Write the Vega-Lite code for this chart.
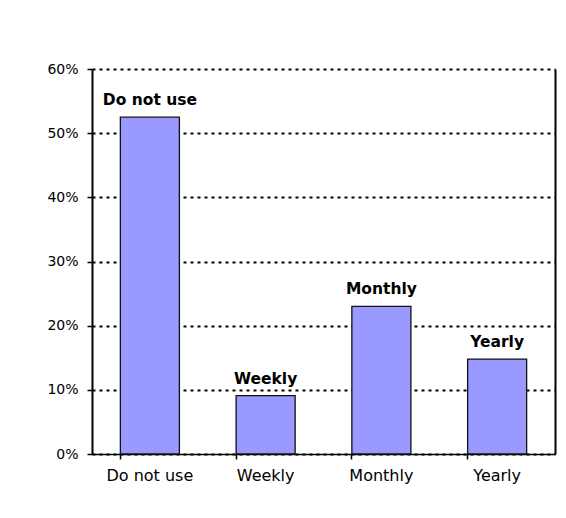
{
  "$schema": "https://vega.github.io/schema/vega-lite/v6.json",
  "autosize": "none",
  "width": 463,
  "height": 385,
  "padding": {"left": 92, "top": 69, "right": 11, "bottom": 64},
  "background": "white",
  "data": {
    "values": [
      {"usage": "Do not use", "share": 0.525},
      {"usage": "Weekly", "share": 0.091},
      {"usage": "Monthly", "share": 0.23},
      {"usage": "Yearly", "share": 0.148}
    ]
  },
  "config": {
    "view": {"stroke": null},
    "axis": {
      "labelFont": "DejaVu Sans",
      "labelColor": "#000000",
      "domainColor": "#000000",
      "tickColor": "#000000",
      "title": null
    }
  },
  "resolve": {"axis": {"y": "independent"}},
  "layer": [
    {
      "mark": {"type": "bar", "fill": "#9999FF", "stroke": "#111111", "strokeWidth": 1.3},
      "encoding": {
        "x": {
          "field": "usage",
          "type": "nominal",
          "sort": null,
          "scale": {"paddingInner": 0.49, "paddingOuter": 0.245},
          "axis": {
            "labelAngle": 0,
            "labelFontSize": 16,
            "labelPadding": 8,
            "tickSize": 5,
            "tickWidth": 1.5,
            "bandPosition": 0,
            "domainWidth": 1.5
          }
        },
        "y": {
          "field": "share",
          "type": "quantitative",
          "scale": {"domain": [0, 0.6], "nice": false},
          "axis": {
            "format": ".0%",
            "values": [0, 0.1, 0.2, 0.3, 0.4, 0.5, 0.6],
            "labelFontSize": 14,
            "labelPadding": 9,
            "tickSize": 5,
            "tickWidth": 1.5,
            "domainWidth": 2,
            "grid": true,
            "gridColor": "#000000",
            "gridWidth": 2,
            "gridDash": [3, 4],
            "gridOpacity": 1
          }
        }
      }
    },
    {
      "mark": {
        "type": "text",
        "font": "DejaVu Sans",
        "fontWeight": "bold",
        "fontSize": 15.5,
        "color": "#000000",
        "baseline": "alphabetic",
        "dy": -12
      },
      "encoding": {
        "x": {"field": "usage", "type": "nominal", "sort": null},
        "y": {"field": "share", "type": "quantitative", "axis": null},
        "text": {"field": "usage"}
      }
    },
    {
      "mark": {"type": "rule", "opacity": 0},
      "encoding": {
        "y": {
          "field": "share",
          "type": "quantitative",
          "axis": {
            "orient": "right",
            "labels": false,
            "ticks": false,
            "grid": false,
            "domainWidth": 2
          }
        }
      }
    }
  ]
}
